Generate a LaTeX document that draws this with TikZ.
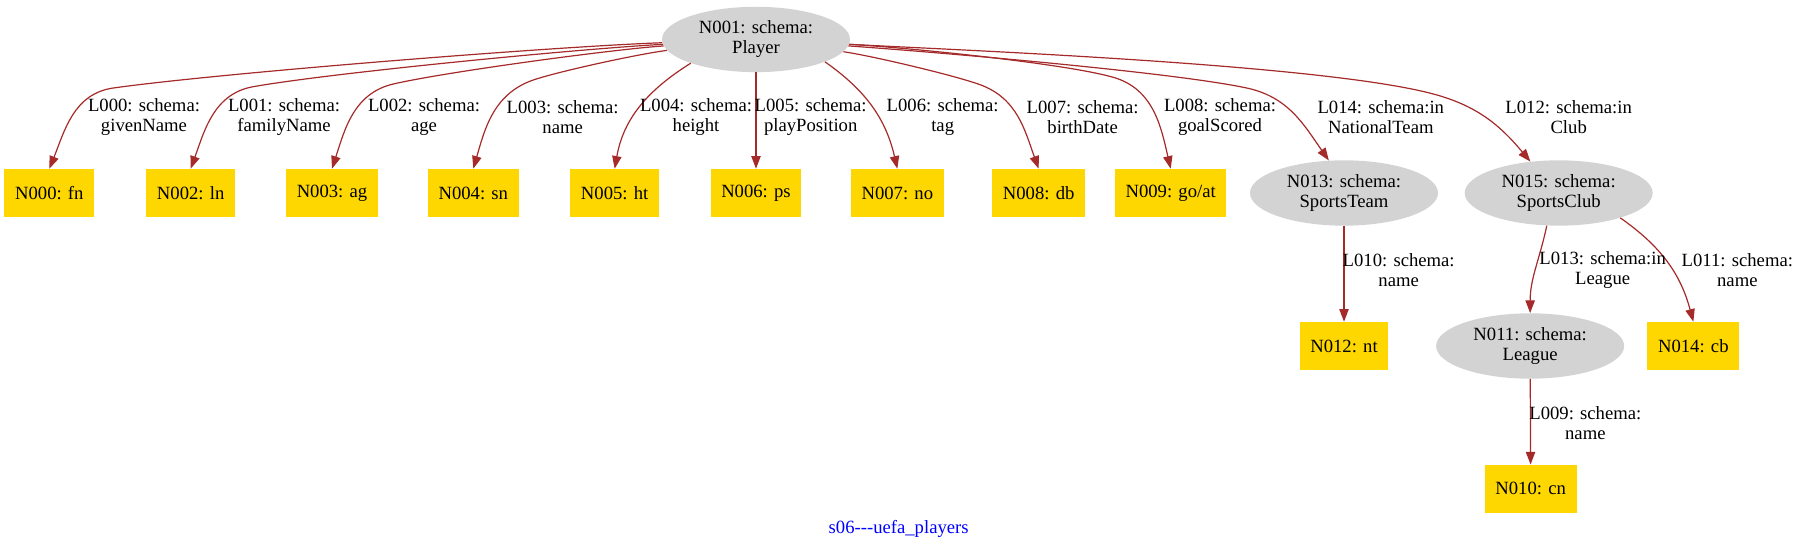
\documentclass[tikz,border=0pt]{standalone}
\usepackage{fontspec}
\setmainfont{Liberation Serif}
\usetikzlibrary{arrows.meta}
\usetikzlibrary{shapes.geometric}

\definecolor{linkbrown}{RGB}{165,42,42}
\definecolor{litgold}{RGB}{255,215,0}
\definecolor{classgray}{RGB}{211,211,211}

\begin{document}
\begin{tikzpicture}[x=1pt, y=1pt,
    font=\fontsize{14}{15}\selectfont,
    classnode/.style={ellipse, fill=classgray, minimum width=141pt, minimum height=49pt, inner sep=0pt, align=center},
    litnode/.style={rectangle, fill=litgold, minimum height=36pt, minimum width=54pt, inner xsep=8pt, inner ysep=0pt},
    linkarrow/.style={draw=linkbrown, line width=0.9pt, -{Triangle[length=9.5pt, width=7pt]}},
    linklabel/.style={align=center, inner sep=0pt}]

    \def\rowA{-144.75}
    \def\rowB{-259.5}
    \def\rowC{-366.6}
    \def\labA{-88}
    \def\labB{-202.5}

    \useasboundingbox (0,0) rectangle (1348.5,-411);

    % Class nodes
    \node[classnode] (player) at (567,-29.6) {N001: schema:\\Player};
    \node[classnode] (n013) at (1008,\rowA) {N013: schema:\\SportsTeam};
    \node[classnode] (n015) at (1169,\rowA) {N015: schema:\\SportsClub};
    \node[classnode] (n011) at (1147.6,\rowB) {N011: schema:\\League};

    % Literal nodes
    \foreach \id/\txt/\xpos in {000/fn/37, 002/ln/143, 003/ag/249, 004/sn/355, 005/ht/461,
                                006/ps/567, 007/no/673, 008/db/779, 009/{go/at}/878}
        \node[litnode] (n\id) at (\xpos,\rowA) {N\id: \txt};
    \node[litnode] (n012) at (1008,\rowB) {N012: nt};
    \node[litnode] (n014) at (1270,\rowB) {N014: cb};
    \node[litnode] (n010) at (1148,\rowC) {N010: cn};

    % Bends of the long links
    \coordinate (k000) at (85,-66);
    \coordinate (k002) at (190,-65);
    \coordinate (k003) at (295,-63);
    \coordinate (k004) at (400,-60);
    \coordinate (k008) at (735,-63.5);
    \coordinate (k009) at (835,-58);
    \coordinate (k013) at (935,-66);
    \coordinate (k015) at (1075,-70.5);

    % Links from the player
    \draw[linkarrow] (player) to[out=182, in=8, looseness=0.5] (k000) to[out=188, in=68] (n000.north);
    \draw[linkarrow] (player) to[out=183, in=10, looseness=0.5] (k002) to[out=190, in=70] (n002.north);
    \draw[linkarrow] (player) to[out=184, in=13, looseness=0.5] (k003) to[out=193, in=72] (n003.north);
    \draw[linkarrow] (player) to[out=187, in=19, looseness=0.5] (k004) to[out=199, in=74] (n004.north);
    \draw[linkarrow] (player.200) to[out=212, in=80] (n005.north);
    \draw[linkarrow] (player) -- (n006);
    \draw[linkarrow] (player.342) to[out=325, in=103] (n007.north);
    \draw[linkarrow] (player) to[out=-8, in=160, looseness=0.5] (k008) to[out=-20, in=110] (n008.north);
    \draw[linkarrow] (player) to[out=-3, in=164, looseness=0.5] (k009) to[out=-16, in=103] (n009.north);
    \draw[linkarrow] (player) to[out=-4, in=168, looseness=0.5] (k013) to[out=-12, in=125] (n013.115);
    \draw[linkarrow] (player) to[out=-3, in=165, looseness=0.5] (k015) to[out=-15, in=130] (n015.132);

    % Links below
    \draw[linkarrow] (n013) -- (n012);
    \draw[linkarrow] (n015.250) to[out=258, in=90] (n011.north);
    \draw[linkarrow] (n015.338) to[out=-35, in=105] (n014.north);
    \draw[linkarrow] (n011) -- (n010);

    % Link labels
    \node[linklabel] (l000) at (108,\labA) {L000: schema:\\givenName};
    \node[linklabel] (l001) at (213,\labA) {L001: schema:\\familyName};
    \node[linklabel] (l002) at (318,\labA) {L002: schema:\\age};
    \node[linklabel] (l003) at (422,\labA) {L003: schema:\\name};
    \node[linklabel] (l004) at (522,\labA) {L004: schema:\\height};
    \node[linklabel] (l005) at (608,\labA) {L005: schema:\\playPosition};
    \node[linklabel] (l006) at (707,\labA) {L006: schema:\\tag};
    \node[linklabel] (l007) at (812,\labA) {L007: schema:\\birthDate};
    \node[linklabel] (l008) at (915,\labA) {L008: schema:\\goalScored};
    \node[linklabel] (l014) at (1035.6,\labA) {L014: schema:in\\NationalTeam};
    \node[linklabel] (l012) at (1176.5,\labA) {L012: schema:in\\Club};
    \node[linklabel] (l010) at (1049,\labB) {L010: schema:\\name};
    \node[linklabel] (l013) at (1202,\labB) {L013: schema:in\\League};
    \node[linklabel] (l011) at (1303,\labB) {L011: schema:\\name};
    \node[linklabel] (l009) at (1189,-317) {L009: schema:\\name};

    % Title
    \node[text=blue] (title) at (674,-396.75) {s06-\kern0pt-\kern0pt-uefa\_players};

\end{tikzpicture}
\end{document}
